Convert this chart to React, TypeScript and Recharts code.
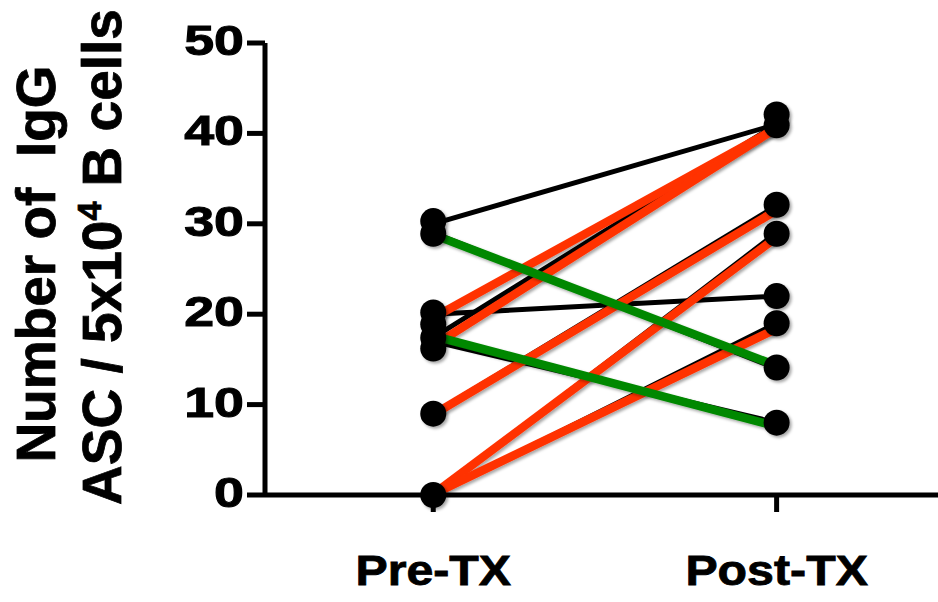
import React from 'react';
import { ComposedChart, Line, Scatter, XAxis, YAxis } from 'recharts';

const categories = ['Pre-TX', 'Post-TX'];
const yTicks = [0, 10, 20, 30, 40, 50];

// subject lines (black), pre -> post
const blackPre = [30, 29, 20, 17.4, 17, 9, 0, 0];
const blackPost = [41, 14, 22, 41, 8, 32, 29, 19];

// highlighted subjects (red)
const redPre = [19.6, 16.5, 8.9, 0.1, 0.1];
const redPost = [40.6, 40.6, 31.5, 28.5, 18.4];

// highlighted subjects (green)
const greenPre = [28.8, 17.6];
const greenPost = [14.3, 7.6];

// dots
const dotPre = [30.3, 28.9, 20.2, 18.9, 17.4, 16.2, 9, 0];
const dotPost = [42.1, 40.9, 32.1, 28.9, 22, 19, 14.1, 8];

const FONT = '"Liberation Sans", Arial, Helvetica, sans-serif';

const pairs = (pre: number[], post: number[]) =>
  pre.map((p, i) => [
    { x: 0, y: p },
    { x: 1, y: post[i] },
  ]);

const blackLines = pairs(blackPre, blackPost);
const redLines = pairs(redPre, redPost);
const greenLines = pairs(greenPre, greenPost);
const dots = [
  ...dotPre.map((v) => ({ x: 0, y: v })),
  ...dotPost.map((v) => ({ x: 1, y: v })),
];

const YTick = (props: any) => {
  const { x, y, payload } = props;
  return (
    <g transform={`translate(${x},${y}) scale(1.25,1)`}>
      <text
        x={0}
        y={0}
        dy={12}
        textAnchor="end"
        fontFamily={FONT}
        fontWeight="bold"
        fontSize={43}
        fill="#000"
        stroke="#000"
        strokeWidth={1}
      >
        {payload.value}
      </text>
    </g>
  );
};

const XTick = (props: any) => {
  const { x, y, payload } = props;
  return (
    <g transform={`translate(${x},${y}) scale(1.15,1)`}>
      <text
        x={0}
        y={0}
        dy={73}
        textAnchor="middle"
        fontFamily={FONT}
        fontWeight="bold"
        fontSize={42}
        fill="#000"
        stroke="#000"
        strokeWidth={0.8}
      >
        {categories[payload.value]}
      </text>
    </g>
  );
};

const YLabel = () => (
  <g fontFamily={FONT} fontWeight="bold" fontSize={55} fill="#000" stroke="#000" strokeWidth={0.8}>
    <text
      transform="translate(55,264) rotate(-90)"
      textAnchor="middle"
      style={{ whiteSpace: 'pre' }}
    >
      {'Number of  IgG'}
    </text>
    <text
      transform="translate(121,257) rotate(-90)"
      textAnchor="middle"
      style={{ whiteSpace: 'pre' }}
    >
      {'ASC / 5x10'}
      <tspan dy={-20} fontSize={34}>
        4
      </tspan>
      <tspan dy={20}>{' B cells'}</tspan>
    </text>
  </g>
);

const Dot = (p: any) => (
  <circle cx={p.cx} cy={p.cy} r={13} fill="#000" filter="url(#shadow)" />
);

export default function App() {
  return (
    <div style={{ position: 'absolute', left: 0, top: 0, background: '#fff' }}>
      <ComposedChart
        width={938}
        height={602}
        margin={{ top: 43, right: 0, bottom: 0, left: 0 }}
      >
        <defs>
          <filter id="shadow" x="-20%" y="-20%" width="140%" height="140%">
            <feDropShadow dx={2} dy={2} stdDeviation={1.5} floodColor="#000" floodOpacity={0.35} />
          </filter>
        </defs>
        <XAxis
          type="number"
          dataKey="x"
          domain={[-0.49, 1.47]}
          ticks={[0, 1]}
          allowDataOverflow
          height={107}
          tickSize={17}
          tickMargin={0}
          axisLine={{ stroke: '#000', strokeWidth: 5 }}
          tickLine={{ stroke: '#000', strokeWidth: 5 }}
          tick={<XTick />}
        />
        <YAxis
          type="number"
          domain={[0, 50]}
          ticks={yTicks}
          width={265}
          tickSize={18}
          tickMargin={3}
          axisLine={{ stroke: '#000', strokeWidth: 5 }}
          tickLine={{ stroke: '#000', strokeWidth: 5 }}
          tick={<YTick />}
          label={<YLabel />}
        />
        {blackLines.map((d, i) => (
          <Line
            key={`b${i}`}
            data={d}
            dataKey="y"
            stroke="#000"
            strokeWidth={5}
            dot={false}
            activeDot={false}
            isAnimationActive={false}
          />
        ))}
        {redLines.map((d, i) => (
          <Line
            key={`r${i}`}
            data={d}
            dataKey="y"
            stroke="#ff3300"
            strokeWidth={8.5}
            dot={false}
            activeDot={false}
            filter="url(#shadow)"
            isAnimationActive={false}
          />
        ))}
        {greenLines.map((d, i) => (
          <Line
            key={`g${i}`}
            data={d}
            dataKey="y"
            stroke="#008800"
            strokeWidth={8.5}
            dot={false}
            activeDot={false}
            filter="url(#shadow)"
            isAnimationActive={false}
          />
        ))}
        <Scatter data={dots} dataKey="y" shape={<Dot />} isAnimationActive={false} />
      </ComposedChart>
    </div>
  );
}
